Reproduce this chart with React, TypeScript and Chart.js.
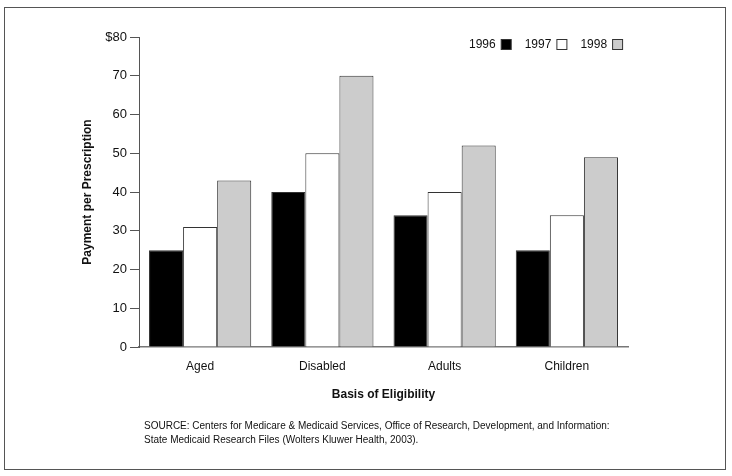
import React, { useEffect, useRef } from "react";
import { Chart, registerables } from "chart.js";

Chart.register(...registerables);

const categories = ["Aged", "Disabled", "Adults", "Children"];
const seriesLabels = ["1996", "1997", "1998"];
const values1996 = [25, 40, 34, 25];
const values1997 = [31, 50, 40, 34];
const values1998 = [43, 70, 52, 49];
const seriesColors = ["#000000", "#ffffff", "#cccccc"];
const yTitle = "Payment per Prescription";
const xTitle = "Basis of Eligibility";
const sourceLines = [
  "SOURCE: Centers for Medicare & Medicaid Services, Office of Research, Development, and Information:",
  "State Medicaid Research Files (Wolters Kluwer Health, 2003).",
];

const FONT = '"Liberation Sans", Arial, Helvetica, sans-serif';

const decorPlugin = {
  id: "decor",
  afterDraw(chart: any) {
    const ctx = chart.ctx as CanvasRenderingContext2D;
    const area = chart.chartArea;
    ctx.save();
    // outer frame
    ctx.strokeStyle = "#555555";
    ctx.lineWidth = 1;
    ctx.strokeRect(4.5, 7.5, 721, 462);

    // y title
    ctx.fillStyle = "#111111";
    ctx.font = `bold 12px ${FONT}`;
    ctx.textAlign = "center";
    ctx.textBaseline = "middle";
    ctx.save();
    ctx.translate(88, 192);
    ctx.rotate(-Math.PI / 2);
    ctx.fillText(yTitle, 0, 0);
    ctx.restore();

    // x title
    ctx.fillText(xTitle, (area.left + area.right) / 2, 395);

    // source
    ctx.font = `10px ${FONT}`;
    ctx.textAlign = "left";
    ctx.fillText(sourceLines[0], 144, 426);
    ctx.fillText(sourceLines[1], 144, 440);

    // legend
    ctx.font = `12px ${FONT}`;
    let x = 469;
    const y = 45;
    chart.data.datasets.forEach((ds: any) => {
      ctx.fillStyle = "#111111";
      ctx.textAlign = "left";
      ctx.fillText(ds.label, x, y);
      x += ctx.measureText(ds.label).width + 5;
      ctx.fillStyle = ds.backgroundColor;
      ctx.fillRect(x + 0.5, y - 5.5, 10, 10);
      ctx.strokeStyle = "#333333";
      ctx.strokeRect(x + 0.5, y - 5.5, 10, 10);
      x += 10 + 14;
    });
    ctx.restore();
  },
};

export default function App() {
  const ref = useRef<HTMLCanvasElement | null>(null);
  useEffect(() => {
    if (!ref.current) return;
    const data = [values1996, values1997, values1998];
    const chart = new Chart(ref.current, {
      type: "bar",
      data: {
        labels: categories,
        datasets: seriesLabels.map((label, i) => ({
          label,
          data: data[i],
          backgroundColor: seriesColors[i],
          borderColor: "#333333",
          borderWidth: 1,
          barPercentage: 1,
          categoryPercentage: 0.836,
        })),
      },
      options: {
        animation: false,
        responsive: false,
        maintainAspectRatio: false,
        layout: { padding: { left: 0, top: 37, right: 104, bottom: 0 } },
        plugins: {
          legend: { display: false },
          tooltip: { enabled: false },
          title: { display: false },
        },
        scales: {
          x: {
            grid: { display: false, drawTicks: false },
            border: { display: true, color: "#777777", width: 1.5 },
            ticks: {
              color: "#111111",
              font: { family: FONT, size: 12 },
              padding: 12,
            },
            afterFit: (s: any) => {
              s.height = 129;
            },
          },
          y: {
            min: 0,
            max: 80,
            grid: {
              drawOnChartArea: false,
              drawTicks: true,
              tickLength: 9,
              tickColor: "#555555",
            },
            border: { display: true, color: "#555555", width: 1 },
            ticks: {
              stepSize: 10,
              color: "#111111",
              font: { family: FONT, size: 13 },
              padding: 3,
              callback: (v: any) => (v === 80 ? "$" + v : String(v)),
            },
            afterFit: (s: any) => {
              s.width = 139;
            },
          },
        },
      },
      plugins: [decorPlugin],
    });
    return () => chart.destroy();
  }, []);
  return (
    <div style={{ position: "fixed", left: 0, top: 0, width: 732, height: 476, background: "#fff" }}>
      <canvas ref={ref} width={732} height={476} style={{ width: 732, height: 476 }} />
    </div>
  );
}
